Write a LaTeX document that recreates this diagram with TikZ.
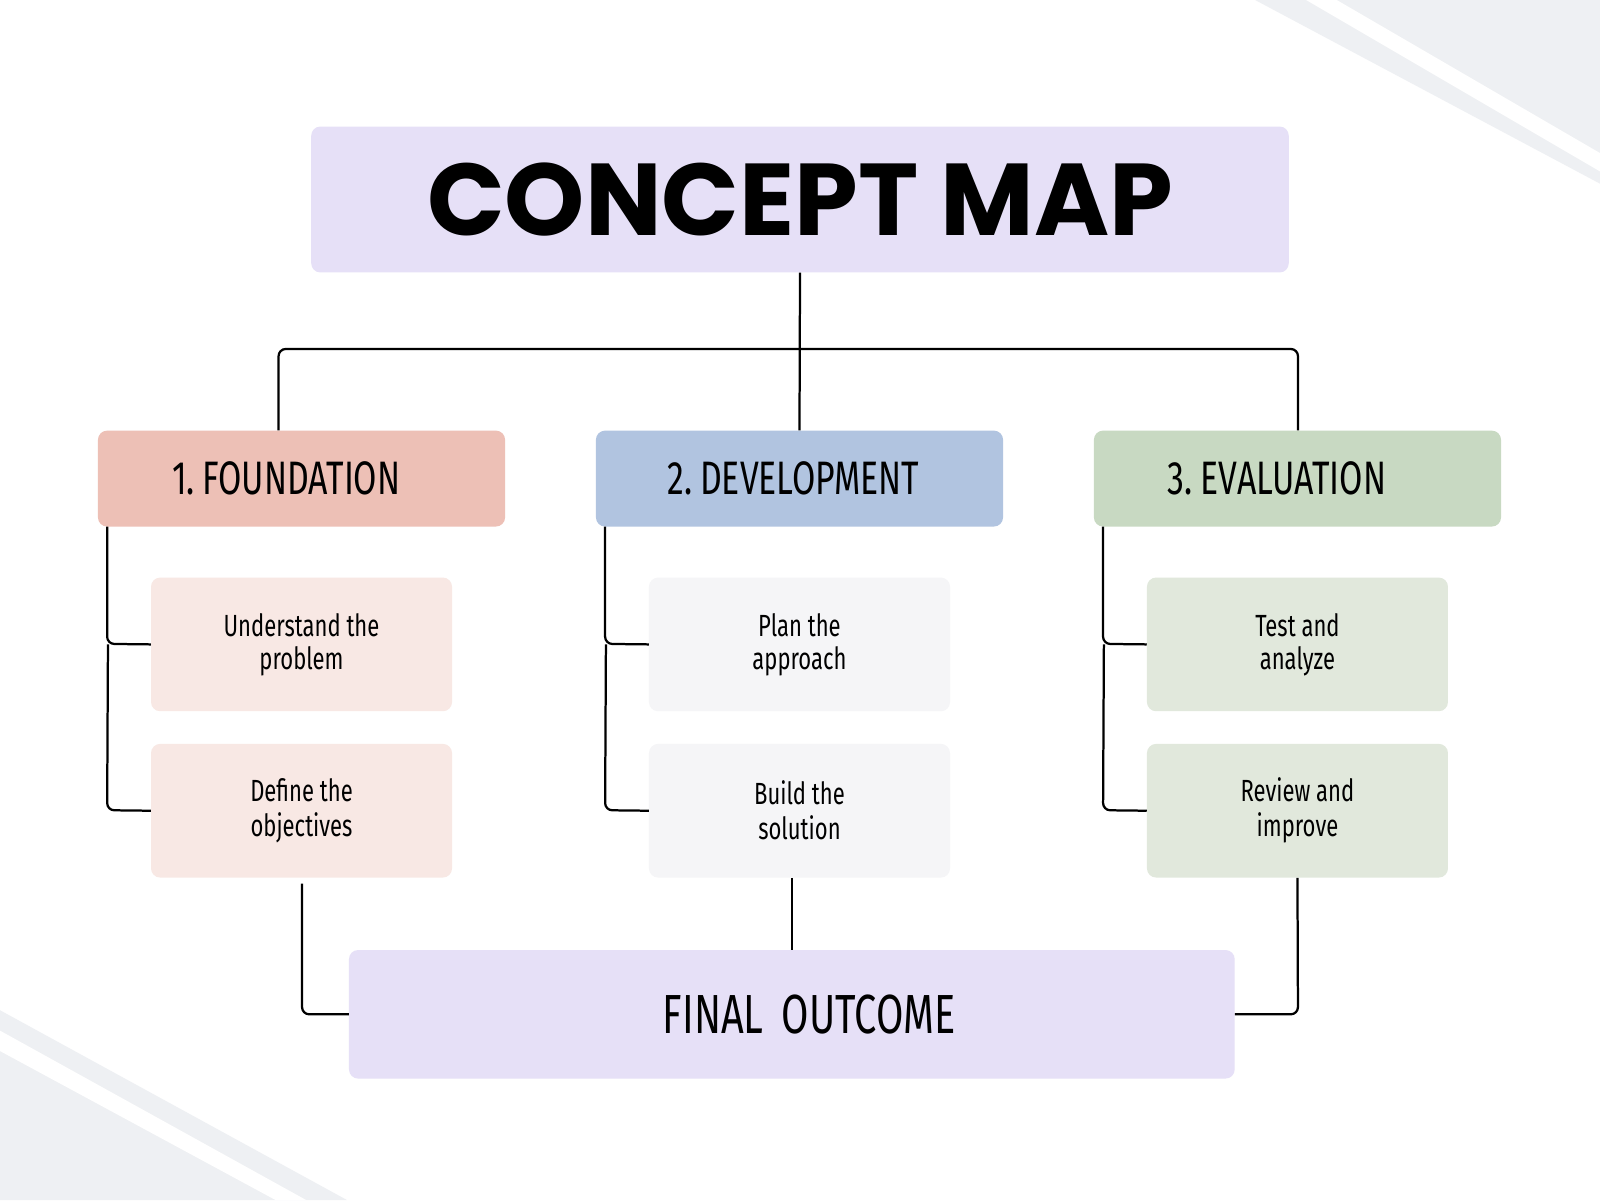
\documentclass[tikz,border=0pt]{standalone}
\usepackage{fontspec}
\setmainfont{Fira Sans}
\newfontfamily\cond[FakeStretch=0.72]{Fira Sans}
\newfontfamily\titlef{Poppins Bold}
\definecolor{lav}{HTML}{E6E0F7}
\definecolor{hA}{HTML}{EDC0B6}\definecolor{hB}{HTML}{B1C4E0}\definecolor{hC}{HTML}{C8D9C2}
\definecolor{sA}{HTML}{F8E8E4}\definecolor{sB}{HTML}{F5F5F7}\definecolor{sC}{HTML}{E1E8DC}
\definecolor{deco}{HTML}{EEF0F3}
\begin{document}
\begin{tikzpicture}[x=1pt,y=-1pt,
 box/.style={rounded corners=9pt,draw=none,minimum width=#1,inner sep=0pt},
 head/.style={box=399pt,minimum height=94pt,font=\cond\fontsize{46}{50}\selectfont},
 sub/.style={box=295pt,minimum height=131pt,align=center,font=\cond\fontsize{30}{33}\selectfont},
 ln/.style={line width=2.2pt,rounded corners=7pt}]
\useasboundingbox (0,0) rectangle (1568,1176);
\fill[white] (0,0) rectangle (1568,1176);
\fill[deco] (1230,0) -- (1568,0) -- (1568,180) -- cycle;
\fill[white] (1280,0) -- (1310,0) -- (1568,150) -- (1568,168) -- cycle;
\fill[deco] (0,990) -- (340,1176) -- (0,1176) -- cycle;
\fill[white] (0,1010) -- (300,1176) -- (270,1176) -- (0,1030) -- cycle;
\node[box=958pt,minimum height=143pt,fill=lav,font=\titlef\fontsize{100}{104}\selectfont] (t) at (784,195.5) {CONCEPT MAP};
\node[head,fill=hA,text width=399pt,align=center] (h1) at (295.5,469) {\hspace*{-30pt}\mbox{1.\,FOUNDATION}};
\node[head,fill=hB,text width=399pt,align=center] (h2) at (783.5,469) {\hspace*{-12pt}\mbox{2.\,DEVELOPMENT}};
\node[head,fill=hC,text width=399pt,align=center] (h3) at (1271.5,469) {\hspace*{-40pt}\mbox{3.\,EVALUATION}};
\node[sub,fill=sA] (a1) at (295.5,631.5) {\strut Understand the\\problem};
\node[sub,fill=sA] (a2) at (295.5,794.5) {\strut Define the\\objectives};
\node[sub,fill=sB] (b1) at (783.5,631.5) {\strut Plan the\\approach};
\node[sub,fill=sB] (b2) at (783.5,794.5) {\strut Build the\\solution};
\node[sub,fill=sC] (c1) at (1271.5,631.5) {\strut Test and\\analyze};
\node[sub,fill=sC] (c2) at (1271.5,794.5) {\strut Review and\\improve};
\node[box=868pt,minimum height=126pt,fill=lav,font=\cond\fontsize{54}{58}\selectfont,text width=868pt,align=center] (f) at (776,994) {\hspace*{34pt}\mbox{FINAL OUTCOME}};
\draw[ln] (t.south) -- (h2.north);
\draw[ln] (h1.north -| 273,0) -- (273,342) -- (1272,342) -- (h3.north -| 1272,0);
\foreach \h/\p/\q/\x in {h1/a1/a2/105,h2/b1/b2/593,h3/c1/c2/1081}{
 \draw[ln] (\h.south -| \x,0) -- (\x,631) -- (\p.west);
 \draw[ln] (\p.west) ++(-42,0) -- (\x,794) -- (\q.west);
}
\draw[ln] (296,866) -- (296,994) -- (f.west);
\draw[ln] (b2.south -| 776,0) -- (f.north -| 776,0);
\draw[ln] (c2.south) -- (1272,994) -- (f.east);
\end{tikzpicture}
\end{document}
